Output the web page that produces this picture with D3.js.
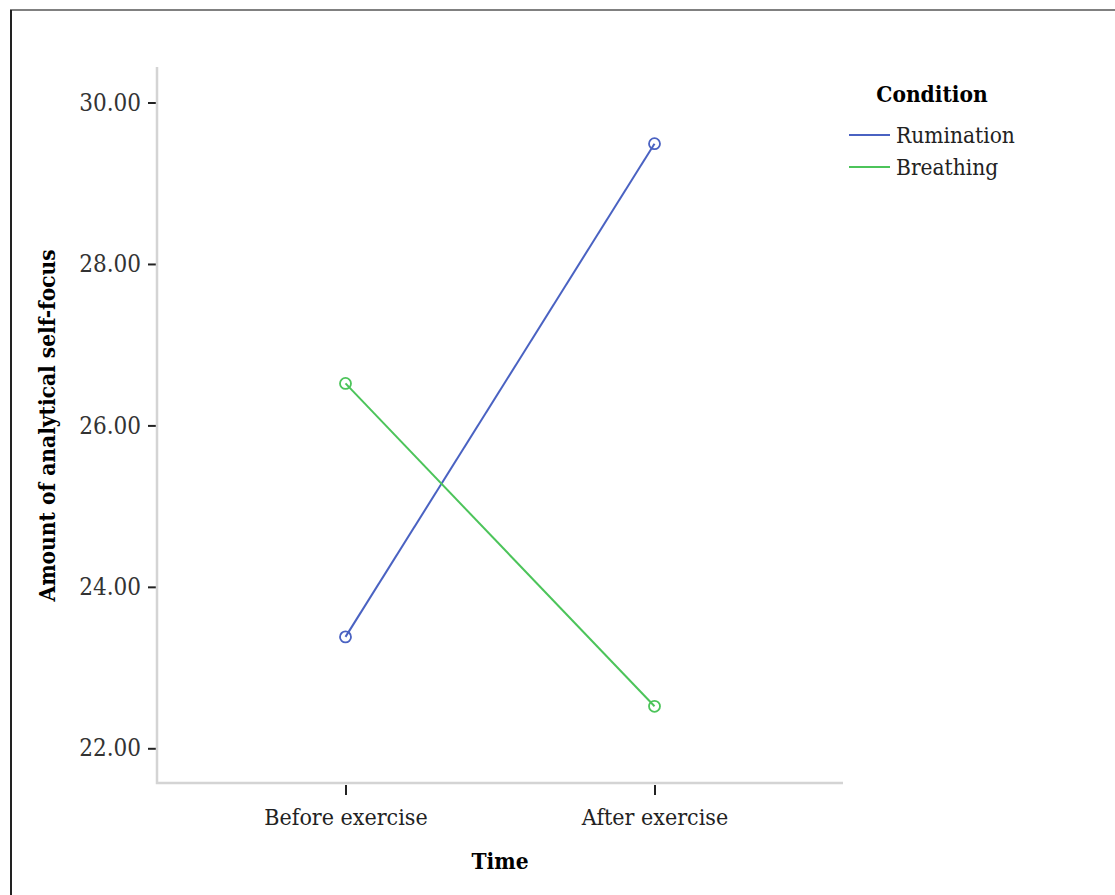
<!DOCTYPE html>
<html>
<head>
<meta charset="utf-8">
<script src="https://cdn.jsdelivr.net/npm/d3@7"></script>
<style>
  body { margin: 0; background: #fff; }
  svg { display: block; }
</style>
</head>
<body>
<svg id="drawing_region"></svg>
<script>
const times = ["Before exercise", "After exercise"];
const conditions = ["Rumination", "Breathing"];
const colors = ["#4a62c2", "#4cc45a"];
const rumination = [23.38, 29.49];
const breathing = [26.52, 22.52];
const yticks = [22, 24, 26, 28, 30];

const width = 1115, height = 895;
const margin = {top: 67, left: 157, right: 272, bottom: 112};
const innerW = width - margin.left - margin.right;
const innerH = height - margin.top - margin.bottom;

const svg = d3.select('#drawing_region')
    .attr('width', width)
    .attr('height', height);

// frame
svg.append('line').attr('x1', 10).attr('x2', width).attr('y1', 10).attr('y2', 10)
    .attr('stroke', '#808080').attr('stroke-width', 2);
svg.append('line').attr('x1', 11).attr('x2', 11).attr('y1', 10).attr('y2', height)
    .attr('stroke', '#222').attr('stroke-width', 2);

const chart = svg.append('g')
    .attr('transform', `translate(${margin.left}, ${margin.top})`);

const xscale = d3.scalePoint()
    .domain(times)
    .range([0, innerW])
    .padding(0.61);

const yscale = d3.scaleLinear()
    .domain([21.57, 30.44])
    .range([innerH, 0]);

const serif = '"DejaVu Serif Condensed", "DejaVu Serif", serif';

// y axis
const yaxis = d3.axisLeft(yscale)
    .tickValues(yticks)
    .tickFormat(d3.format('.2f'))
    .tickSize(9)
    .tickPadding(7);

const yg = chart.append('g').call(yaxis);
yg.select('.domain').remove();
yg.selectAll('.tick line').attr('stroke', '#222').attr('stroke-width', 2);
yg.selectAll('.tick text')
    .attr('font-family', serif)
    .attr('font-stretch', 'condensed')
    .attr('font-size', '24px')
    .attr('fill', '#333');

// x axis
const xaxis = d3.axisBottom(xscale)
    .tickSize(12)
    .tickPadding(14);

const xg = chart.append('g')
    .attr('transform', `translate(0, ${innerH})`)
    .call(xaxis);
xg.select('.domain').remove();
xg.selectAll('.tick line').attr('stroke', '#222').attr('stroke-width', 2)
    .attr('y1', 2);
xg.selectAll('.tick text')
    .attr('font-family', serif)
    .attr('font-stretch', 'condensed')
    .attr('font-size', '23px')
    .attr('fill', '#222');

// axis lines
chart.append('path')
    .attr('d', `M0,0V${innerH}H${innerW}`)
    .attr('fill', 'none')
    .attr('stroke', '#d4d4d4')
    .attr('stroke-width', 2.5);

// axis titles
chart.append('text')
    .attr('x', xscale('Before exercise') + (xscale('After exercise') - xscale('Before exercise')) / 2)
    .attr('y', innerH + 86)
    .attr('text-anchor', 'middle')
    .attr('font-family', serif)
    .attr('font-stretch', 'condensed')
    .attr('font-size', '22.5px')
    .attr('font-weight', 'bold')
    .text('Time');

chart.append('text')
    .attr('transform', `translate(-102, ${yscale(26)}) rotate(-90)`)
    .attr('text-anchor', 'middle')
    .attr('font-family', serif)
    .attr('font-stretch', 'condensed')
    .attr('font-size', '22.5px')
    .attr('font-weight', 'bold')
    .text('Amount of analytical self-focus');

// lines and markers
const series = [rumination, breathing];
const line = d3.line()
    .x((d, i) => xscale(times[i]))
    .y(d => yscale(d));

series.forEach((vals, k) => {
    chart.append('path')
        .datum(vals)
        .attr('d', line)
        .attr('fill', 'none')
        .attr('stroke', colors[k])
        .attr('stroke-width', 2);
    chart.selectAll(null)
        .data(vals)
        .enter()
        .append('circle')
        .attr('cx', (d, i) => xscale(times[i]))
        .attr('cy', d => yscale(d))
        .attr('r', 5.5)
        .attr('fill', 'none')
        .attr('stroke', colors[k])
        .attr('stroke-width', 1.8);
});

// legend
const legend = svg.append('g')
    .attr('transform', 'translate(849, 94)');

legend.append('text')
    .attr('x', 83)
    .attr('y', 8)
    .attr('text-anchor', 'middle')
    .attr('font-family', serif)
    .attr('font-stretch', 'condensed')
    .attr('font-size', '22.5px')
    .attr('font-weight', 'bold')
    .text('Condition');

conditions.forEach((c, i) => {
    const y = 41 + i * 32;
    legend.append('line')
        .attr('x1', 0).attr('x2', 41)
        .attr('y1', y).attr('y2', y)
        .attr('stroke', colors[i])
        .attr('stroke-width', 2);
    legend.append('text')
        .attr('x', 47)
        .attr('y', y + 8)
        .attr('font-family', serif)
        .attr('font-stretch', 'condensed')
        .attr('font-size', '22.5px')
        .attr('fill', '#222')
        .text(c);
});
</script>
</body>
</html>
